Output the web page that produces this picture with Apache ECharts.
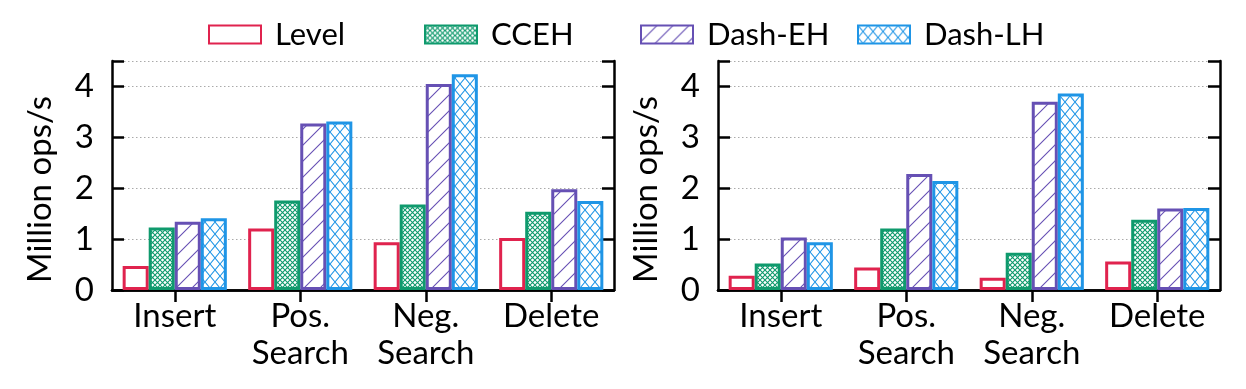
<!DOCTYPE html>
<html><head><meta charset="utf-8">
<script src="https://cdn.jsdelivr.net/npm/echarts@6/dist/echarts.min.js"></script>
<style>html,body{margin:0;padding:0;background:#fff}#c{width:1246px;height:389px}</style>
</head><body><div id="c"></div>
<script>
const categories = ['Insert', 'Pos.\nSearch', 'Neg.\nSearch', 'Delete'];
const seriesNames = ['Level', 'CCEH', 'Dash-EH', 'Dash-LH'];
const leftLevel = [0.47, 1.21, 0.94, 1.02];
const leftCCEH = [1.23, 1.76, 1.68, 1.54];
const leftDashEH = [1.34, 3.27, 4.05, 1.98];
const leftDashLH = [1.41, 3.31, 4.24, 1.75];
const rightLevel = [0.28, 0.44, 0.24, 0.56];
const rightCCEH = [0.52, 1.21, 0.73, 1.38];
const rightDashEH = [1.03, 2.28, 3.70, 1.60];
const rightDashLH = [0.94, 2.14, 3.86, 1.61];
const yAxisTitle = 'Million ops/s';

const FONT = 'Lato';
const FS = 33;
const colors = ['#e0234e', '#0f9a6d', '#6650b4', '#1f95e6'];

function tile(w, h, color, lw, draw) {
  const c = document.createElement('canvas');
  c.width = w; c.height = h;
  const g = c.getContext('2d');
  g.fillStyle = '#fff'; g.fillRect(0, 0, w, h);
  g.strokeStyle = color; g.lineWidth = lw;
  g.beginPath(); draw(g, w, h); g.stroke();
  return { image: c, repeat: 'repeat' };
}
const cross = (g, w, h) => { g.moveTo(0, 0); g.lineTo(w, h); g.moveTo(0, h); g.lineTo(w, 0); };
const diag = (g, w, h) => { g.moveTo(0, h); g.lineTo(w, 0); g.moveTo(-2, 2); g.lineTo(2, -2); g.moveTo(w - 2, h + 2); g.lineTo(w + 2, h - 2); };

const fills = [
  '#ffffff',
  tile(5, 5, colors[1], 1.1, cross),
  tile(16, 16, colors[2], 1.1, diag),
  tile(10, 12, colors[3], 1.1, cross)
];

const grids = [
  { left: 112, top: 61, width: 502, height: 229 },
  { left: 718, top: 61, width: 502, height: 229 }
];
const dataSets = [
  [leftLevel, leftCCEH, leftDashEH, leftDashLH],
  [rightLevel, rightCCEH, rightDashEH, rightDashLH]
];

const axisLine = { show: true, lineStyle: { color: '#000', width: 2.5 } };
const xAxis = [], yAxis = [], series = [];
grids.forEach((g, i) => {
  xAxis.push({
    type: 'category', gridIndex: i, data: categories, position: 'bottom',
    axisLine, axisTick: { show: false },
    axisLabel: { interval: 0, fontSize: FS, fontFamily: FONT, color: '#000', lineHeight: 37, margin: 8 }
  });
  xAxis.push({
    type: 'category', gridIndex: i, data: categories, position: 'top',
    axisLine, axisTick: { show: true, inside: true, alignWithLabel: true, length: 12, lineStyle: { color: '#000', width: 2.5 } },
    axisLabel: { show: false }
  });
  yAxis.push({
    type: 'value', gridIndex: i, min: 0, max: 4.5, interval: 1, position: 'left',
    name: yAxisTitle, nameLocation: 'middle', nameGap: 55,
    nameTextStyle: { fontSize: FS, fontFamily: FONT, color: '#000', padding: [0, 28, 0, 0] },
    axisLine, axisTick: { show: true, inside: true, length: 12, lineStyle: { color: '#000', width: 2.5 } },
    axisLabel: { fontSize: FS, fontFamily: FONT, color: '#000', margin: 18,
      formatter: v => (Number.isInteger(v) ? String(v) : '') },
    splitLine: { show: true, lineStyle: { color: '#aaa', type: [1.5, 2.5], width: 1 } }
  });
  yAxis.push({
    type: 'value', gridIndex: i, min: 0, max: 4.5, interval: 1, position: 'right',
    axisLine, axisTick: { show: true, inside: true, length: 12, lineStyle: { color: '#000', width: 2.5 } },
    axisLabel: { show: false }, splitLine: { show: false }
  });
  seriesNames.forEach((n, k) => {
    series.push({
      type: 'bar', name: n, xAxisIndex: i * 2, yAxisIndex: i * 2,
      data: dataSets[i][k], barGap: '0%', barCategoryGap: '17%',
      itemStyle: { color: fills[k], borderColor: colors[k], borderWidth: 3 },
      emphasis: { disabled: true }, animation: false
    });
  });
});

const legendLefts = [203, 419, 635, 852];
const legend = seriesNames.map((n, k) => ({
  data: [n], left: legendLefts[k], top: 14, icon: 'rect',
  itemWidth: 52, itemHeight: 18, selectedMode: false,
  textStyle: { fontSize: 31, fontFamily: FONT, color: '#000', padding: [0, 0, 0, 9] }
}));

const chart = echarts.init(document.getElementById('c'), null, { renderer: 'canvas' });
chart.setOption({
  animation: false, backgroundColor: '#fff',
  grid: grids, xAxis, yAxis, series, legend
});
</script></body></html>
